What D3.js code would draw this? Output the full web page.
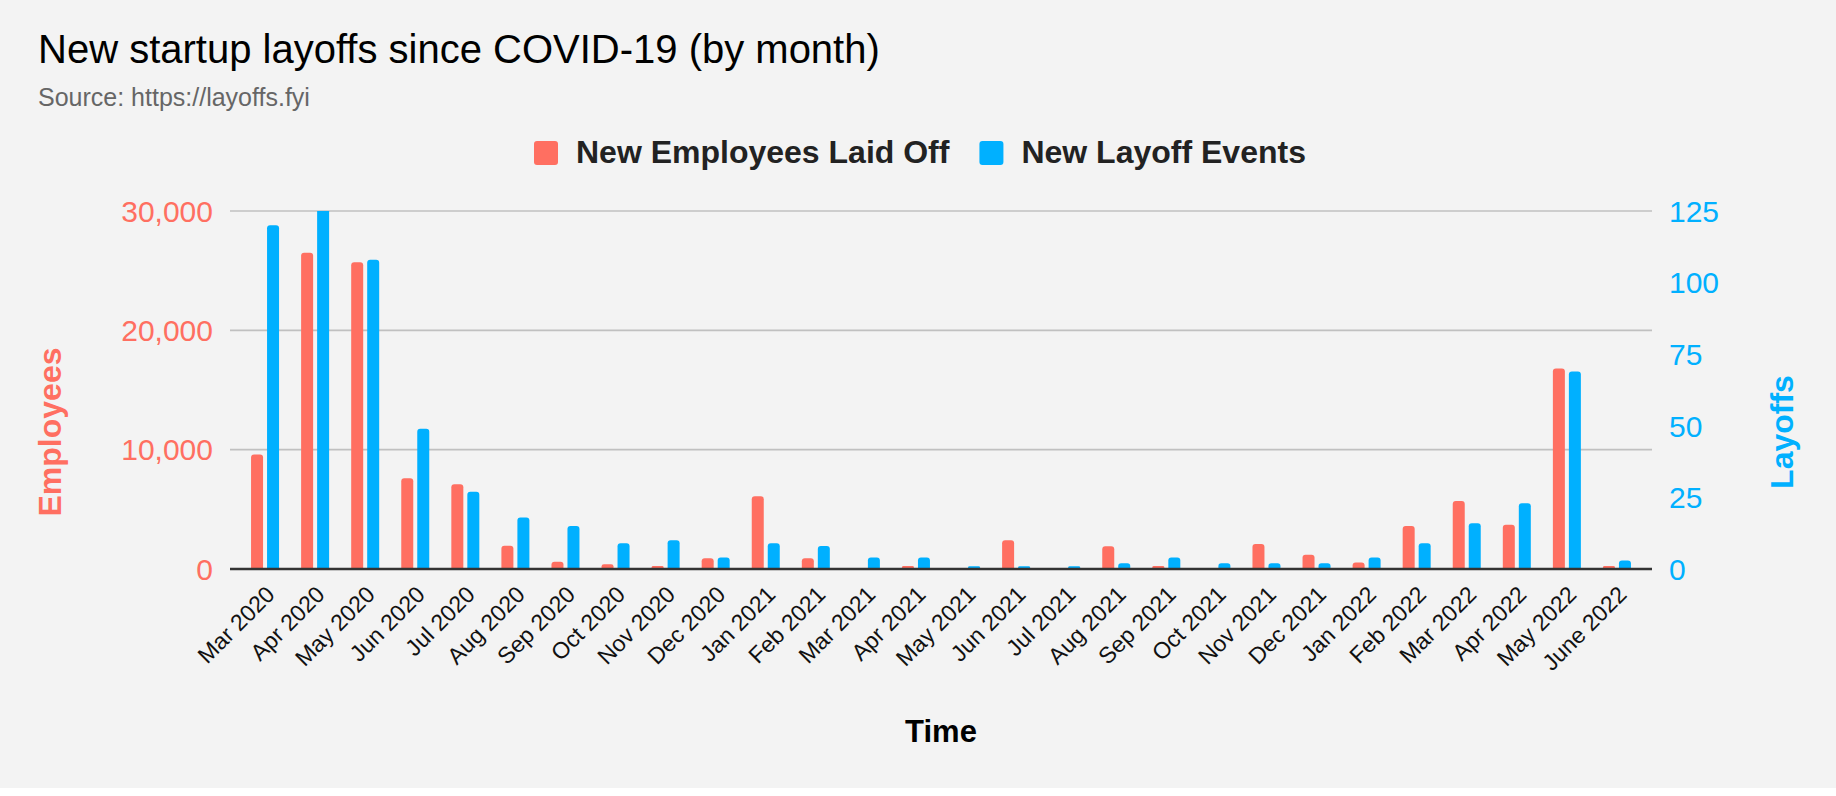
<!DOCTYPE html>
<html>
<head>
<meta charset="utf-8">
<script src="https://cdn.jsdelivr.net/npm/d3@7"></script>
<style>
  body { margin: 0; background: #ffffff; }
  text { font-family: "Liberation Sans", Arial, sans-serif; }
</style>
</head>
<body>
<div id="my_dataviz"></div>
<script>
// data
var months = ["Mar 2020","Apr 2020","May 2020","Jun 2020","Jul 2020","Aug 2020","Sep 2020","Oct 2020",
  "Nov 2020","Dec 2020","Jan 2021","Feb 2021","Mar 2021","Apr 2021","May 2021","Jun 2021","Jul 2021",
  "Aug 2021","Sep 2021","Oct 2021","Nov 2021","Dec 2021","Jan 2022","Feb 2022","Mar 2022","Apr 2022",
  "May 2022","June 2022"];
var employees = [9600,26500,25700,7600,7100,1950,600,400,250,900,6100,900,0,250,0,2400,0,1900,250,0,
  2100,1200,550,3600,5700,3700,16800,250];
var events = [120,128,108,49,27,18,15,9,10,4,9,8,4,4,1,1,1,2,4,2,2,2,4,9,16,23,69,3];
var seriesNames = ["New Employees Laid Off","New Layoff Events"];
var leftTicks = [0,10000,20000,30000];
var rightTicks = [0,25,50,75,100,125];

var red = "#ff6f61", blue = "#00b0ff";

var W = 1836, H = 796;
var margin = {top: 211, right: 184, bottom: 227, left: 230},
  width = W - margin.left - margin.right,
  height = H - margin.top - margin.bottom;

var root = d3.select("#my_dataviz")
.append("svg")
  .attr("width", W)
  .attr("height", H);

root.append("rect")
  .attr("width", W)
  .attr("height", 788)
  .attr("fill", "#f3f3f3");

// title + source
root.append("text")
  .attr("x", 38).attr("y", 63)
  .attr("font-size", 40)
  .attr("fill", "#000")
  .text("New startup layoffs since COVID-19 (by month)");
root.append("text")
  .attr("x", 38).attr("y", 106)
  .attr("font-size", 25)
  .attr("fill", "#666")
  .text("Source: https://layoffs.fyi");

// legend
var legend = root.append("g");
var lx = 534;
seriesNames.forEach(function(name, i) {
  legend.append("rect")
    .attr("x", lx).attr("y", 141)
    .attr("width", 24).attr("height", 24)
    .attr("rx", 3)
    .attr("fill", i == 0 ? red : blue);
  var t = legend.append("text")
    .attr("x", lx + 42).attr("y", 163)
    .attr("font-size", 32)
    .attr("font-weight", "bold")
    .attr("fill", "#222")
    .text(name);
  lx = lx + 42 + t.node().getComputedTextLength() + 30;
});

var svg = root.append("g")
  .attr("transform", "translate(" + margin.left + "," + margin.top + ")");

// scales
var x = d3.scaleBand()
  .domain(months)
  .range([0, width])
  .paddingInner(0)
  .paddingOuter(0.2);
var xSub = d3.scaleBand()
  .domain([0, 1])
  .range([-14, 14])
  .paddingInner(0.25);
var yLeft = d3.scaleLinear()
  .domain([0, 30000])
  .range([height, 0]);
var yRight = d3.scaleLinear()
  .domain([0, 125])
  .range([height, 0]);

// gridlines
svg.selectAll(".grid")
.data(leftTicks.filter(function(d){ return d > 0; }))
.enter()
.append("line")
  .attr("x1", 0)
  .attr("x2", width)
  .attr("y1", function(d){ return yLeft(d); })
  .attr("y2", function(d){ return yLeft(d); })
  .attr("stroke", "#c0c0c0")
  .attr("stroke-width", 1.6);

// left axis labels
svg.selectAll(".ltick")
.data(leftTicks)
.enter()
.append("text")
  .attr("x", -17)
  .attr("y", function(d){ return yLeft(d); })
  .attr("dy", "0.36em")
  .attr("text-anchor", "end")
  .attr("font-size", 30)
  .attr("fill", red)
  .text(d3.format(","));

// right axis labels
svg.selectAll(".rtick")
.data(rightTicks)
.enter()
.append("text")
  .attr("x", width + 17)
  .attr("y", function(d){ return yRight(d); })
  .attr("dy", "0.36em")
  .attr("font-size", 30)
  .attr("fill", blue)
  .text(function(d){ return d; });

// rounded-top bar shape
function barPath(bx, by, bw, bh) {
  var r = Math.min(3, bh / 2, bw / 2);
  return "M" + bx + "," + (by + bh) +
    "V" + (by + r) +
    "Q" + bx + "," + by + " " + (bx + r) + "," + by +
    "H" + (bx + bw - r) +
    "Q" + (bx + bw) + "," + by + " " + (bx + bw) + "," + (by + r) +
    "V" + (by + bh) + "Z";
}

svg.append("clipPath")
  .attr("id", "plotclip")
.append("rect")
  .attr("x", 0).attr("y", 0)
  .attr("width", width).attr("height", height);

var bars = svg.append("g").attr("clip-path", "url(#plotclip)");

var groups = bars.selectAll(".month")
.data(months)
.enter()
.append("g")
  .attr("transform", function(d){ return "translate(" + (x(d) + x.bandwidth() / 2) + ",0)"; });

groups.append("path")
  .attr("fill", red)
  .attr("d", function(d, i) {
    var v = employees[i];
    if (v <= 0) return null;
    return barPath(xSub(0), yLeft(v), xSub.bandwidth(), height - yLeft(v));
  });
groups.append("path")
  .attr("fill", blue)
  .attr("d", function(d, i) {
    var v = events[i];
    if (v <= 0) return null;
    return barPath(xSub(1), yRight(v), xSub.bandwidth(), height - yRight(v));
  });

// baseline
svg.append("line")
  .attr("x1", 0).attr("x2", width)
  .attr("y1", height).attr("y2", height)
  .attr("stroke", "#333")
  .attr("stroke-width", 2.6);

// x labels, slanted
svg.selectAll(".xlab")
.data(months)
.enter()
.append("text")
  .attr("transform", function(d){
    return "translate(" + (x(d) + x.bandwidth() / 2 + 11) + "," + (height + 27) + ") rotate(-45)";
  })
  .attr("text-anchor", "end")
  .attr("font-size", 23)
  .attr("fill", "#111")
  .text(function(d){ return d; });

// axis titles
root.append("text")
  .attr("transform", "translate(61,432) rotate(-90)")
  .attr("text-anchor", "middle")
  .attr("font-size", 32)
  .attr("font-weight", "bold")
  .attr("fill", red)
  .text("Employees");
root.append("text")
  .attr("transform", "translate(1793,432) rotate(-90)")
  .attr("text-anchor", "middle")
  .attr("font-size", 32)
  .attr("font-weight", "bold")
  .attr("fill", blue)
  .text("Layoffs");
root.append("text")
  .attr("x", margin.left + width / 2)
  .attr("y", 742)
  .attr("text-anchor", "middle")
  .attr("font-size", 31)
  .attr("font-weight", "bold")
  .attr("fill", "#000")
  .text("Time");
</script>
</body>
</html>
